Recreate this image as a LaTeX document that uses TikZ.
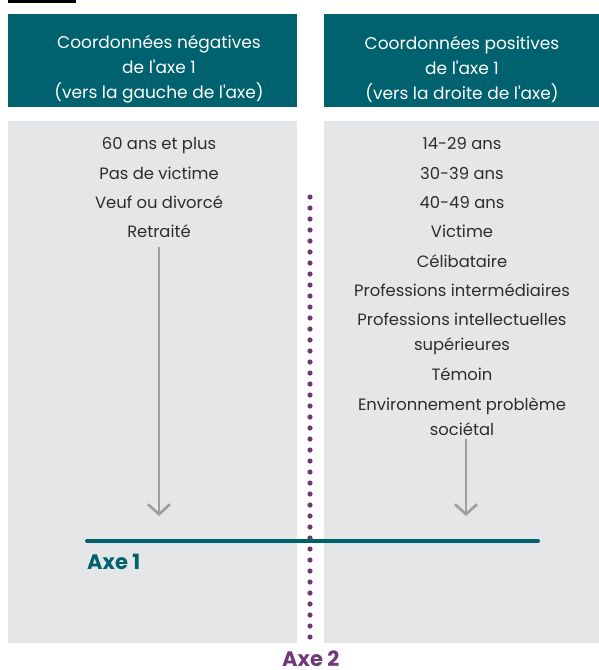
\documentclass[tikz,border=0pt]{standalone}
\definecolor{axeTeal}{RGB}{0,98,110}
\definecolor{panelGrey}{RGB}{229,230,232}
\definecolor{axePurple}{RGB}{112,56,120}
\definecolor{arrowGrey}{RGB}{158,158,160}
\definecolor{textGrey}{RGB}{45,45,45}
\usepackage{fontspec}
\setmainfont{Poppins}
\newcommand{\apos}{\XeTeXglyph\XeTeXcharglyph"27\relax}
\usepackage{tikz}
\usetikzlibrary{arrows.meta,positioning}

\begin{document}
\begin{tikzpicture}[x=1pt, y=-1pt,
  every node/.style={font=\fontsize{16.4}{25}\selectfont, text=textGrey, inner sep=0pt},
  headtext/.style={text=white, align=center, font=\fontsize{17}{25}\selectfont},
  item/.style={anchor=base, align=center},
  downarrow/.style={arrowGrey, line width=2.6pt, -{Straight Barb[length=10pt, width=22pt, line width=2.6pt]}},
  axelabel/.style={anchor=base west, font=\bfseries\fontsize{21}{24}\selectfont}]
  \useasboundingbox (0,0) rectangle (599,670);
  % Panels
  \fill[black] (8,0) rectangle (76,2.5);
  \fill[axeTeal] (8,14) rectangle (297,107);
  \fill[axeTeal] (324,14) rectangle (599,107);
  \fill[panelGrey] (8,121) rectangle (297,643);
  \fill[panelGrey] (324,121) rectangle (599,643);
  % Headers
  \node[headtext] (headneg) at (159,69) {Coordonnées négatives\\de l\apos axe 1\\(vers la gauche de l\apos axe)};
  \node[headtext] (headpos) at (462,69) {Coordonnées positives\\de l\apos axe 1\\(vers la droite de l\apos axe)};
  % Negative side
  \node[item] (age60) at (159,149) {60 ans et plus};
  \node[item] (novict) at (159,179) {Pas de victime};
  \node[item] (veuf) at (159,208) {Veuf ou divorcé};
  \node[item] (retr) at (159,237) {Retraité};
  % Positive side
  \node[item] (age14) at (462,149) {14-29 ans};
  \node[item] (age30) at (462,179) {30-39 ans};
  \node[item] (age40) at (462,208) {40-49 ans};
  \node[item] (vict) at (462,237) {Victime};
  \node[item] (celib) at (462,267) {Célibataire};
  \node[item] (profint) at (462,296) {Professions intermédiaires};
  \node[item] (profsup) at (462,350) {Professions intellectuelles\\supérieures};
  \node[item] (temoin) at (462,380) {Témoin};
  \node[item] (envir) at (462,435) {Environnement problème\\sociétal};
  % Axes
  \coordinate (ax2top) at (310,197);
  \coordinate (ax2bot) at (310,643);
  \draw[axePurple, line width=5.2pt, line cap=round, dash pattern=on 0pt off 11pt] (ax2top) -- (ax2bot);
  \coordinate (ax1left) at (87,541);
  \coordinate (ax1right) at (538,541);
  \draw[axeTeal, line width=4pt, line cap=round] (ax1left) -- (ax1right);
  \node[axelabel, text=axeTeal] (axe1) at (87,569) {Axe 1};
  \node[axelabel, text=axePurple] (axe2) at (282,666) {Axe 2};
  % Arrows
  \coordinate (negend) at (159,516);
  \coordinate (posend) at (466,516);
  \draw[downarrow, shorten <=10pt] (retr.south) -- (negend);
  \draw[downarrow, shorten <=4pt] (envir.south -| posend) -- (posend);
\end{tikzpicture}
\end{document}
